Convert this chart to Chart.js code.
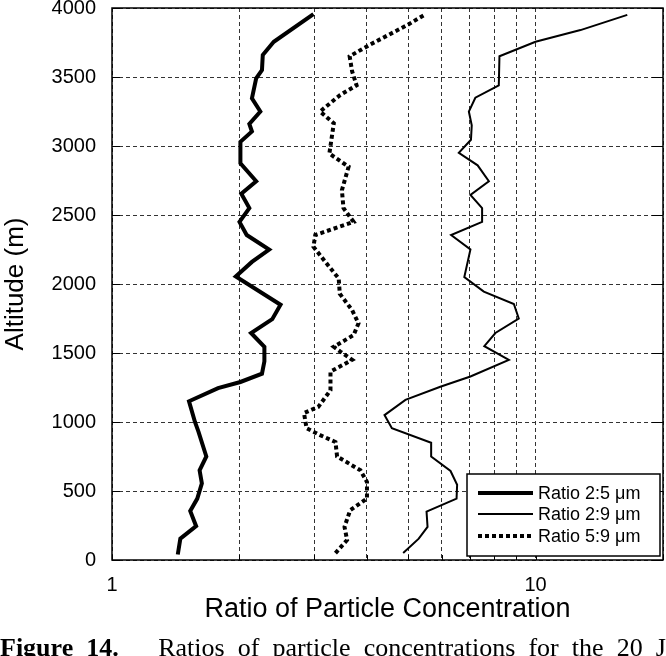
<!DOCTYPE html>
<html>
<head>
<meta charset="utf-8">
<script src="https://cdn.jsdelivr.net/npm/chart.js@4.4.1/dist/chart.umd.min.js"></script>
<style>
    html, body { margin: 0; padding: 0; background: #fff; overflow: hidden; }
    #wrap { position: relative; width: 666px; height: 656px; }
    #caption {
        position: absolute; left: 0; top: 633px; width: 666px;
        font-family: "Liberation Serif", "DejaVu Serif", serif; font-size: 26px; line-height: 30px;
        color: #000; text-align: justify; text-align-last: justify;
    }
</style>
</head>
<body>
<div id="wrap">
    <canvas id="profileChart" width="666" height="656"></canvas>
    <div id="caption"><b>Figure 14.</b>&nbsp;&nbsp; Ratios of particle concentrations for the 20 J</div>
</div>
<script>
// altitude (m) and ratio values
const alt25 = [40, 155, 245, 355, 445, 555, 650, 750, 930, 1000, 1150, 1245, 1290, 1350, 1440, 1545, 1645, 1745, 1850, 2055,
    2160, 2250, 2355, 2450, 2550, 2655, 2745, 2875, 3030, 3105, 3160, 3250, 3345, 3490, 3550, 3660, 3755, 3955];
const ratio25 = [1.43, 1.45, 1.58, 1.53, 1.59, 1.63, 1.61, 1.67, 1.60, 1.57, 1.52, 1.78, 2.01, 2.26, 2.29, 2.29, 2.13, 2.39, 2.50, 1.96,
    2.14, 2.35, 2.08, 2.00, 2.11, 2.02, 2.19, 2.01, 2.01, 2.14, 2.11, 2.24, 2.14, 2.19, 2.26, 2.27, 2.41, 2.99];

const alt29 = [50, 155, 240, 350, 445, 545, 645, 750, 850, 955, 1050, 1160, 1255, 1330, 1450, 1550, 1645, 1750, 1855, 1945,
    2050, 2250, 2355, 2450, 2550, 2645, 2745, 2860, 2950, 3045, 3150, 3250, 3350, 3440, 3650, 3755, 3840, 3950];
const ratio29 = [4.87, 5.30, 5.56, 5.53, 6.51, 6.53, 6.30, 5.67, 5.67, 4.58, 4.40, 4.93, 5.96, 7.02, 8.65, 7.57, 8.04, 9.13, 8.89, 7.55,
    6.79, 7.02, 6.32, 7.48, 7.48, 7.02, 7.76, 7.30, 6.59, 7.04, 7.07, 6.96, 7.21, 8.19, 8.22, 10.0, 12.77, 16.47];

const alt59 = [50, 145, 240, 360, 445, 565, 650, 750, 855, 905, 955, 1065, 1110, 1230, 1365, 1450, 1510, 1545, 1630, 1715,
    1810, 1930, 2040, 2160, 2270, 2355, 2450, 2550, 2680, 2850, 2875, 2945, 3055, 3165, 3250, 3370, 3440, 3540, 3650, 3730, 3875, 3950];
const ratio59 = [3.37, 3.59, 3.54, 3.65, 4.00, 4.00, 3.86, 3.40, 3.37, 3.10, 2.88, 2.84, 3.07, 3.28, 3.28, 3.69, 3.46, 3.34, 3.72, 3.82,
    3.69, 3.45, 3.43, 3.19, 2.99, 3.02, 3.72, 3.52, 3.49, 3.62, 3.52, 3.26, 3.30, 3.34, 3.10, 3.46, 3.78, 3.69, 3.64, 4.04, 4.97, 5.47];

const seriesLabels = ['Ratio 2:5 \u03bcm', 'Ratio 2:9 \u03bcm', 'Ratio 5:9 \u03bcm'];

// axes
const xGridValues = [1, 2, 3, 4, 5, 6, 7, 8, 9, 10, 20];
const xTickLabels = [1, 10];
const yTickValues = [0, 500, 1000, 1500, 2000, 2500, 3000, 3500, 4000];

const FONT = '"Liberation Sans", Arial, Helvetica, sans-serif';

function toPoints(xs, ys) {
    return xs.map((x, i) => ({ x: x, y: ys[i] }));
}

// frame + inward ticks, like the original plot
const framePlugin = {
    id: 'frame',
    afterDatasetsDraw(chart) {
        const { ctx, chartArea: a, scales } = chart;
        ctx.save();
        ctx.strokeStyle = '#000';
        ctx.lineWidth = 1;
        ctx.beginPath();
        yTickValues.forEach((v) => {
            const y = Math.round(scales.y.getPixelForValue(v)) + 0.5;
            ctx.moveTo(a.left, y); ctx.lineTo(a.left + 8, y);
            ctx.moveTo(a.right, y); ctx.lineTo(a.right - 11, y);
        });
        xGridValues.forEach((v) => {
            const x = Math.round(scales.x.getPixelForValue(v)) + 0.5;
            ctx.moveTo(x, a.bottom); ctx.lineTo(x, a.bottom - 5);
        });
        ctx.stroke();
        ctx.lineWidth = 1.5;
        ctx.strokeRect(a.left, a.top, a.right - a.left, a.bottom - a.top);
        ctx.restore();
    },
};

// legend box in the lower right corner
const legendPlugin = {
    id: 'boxLegend',
    afterDraw(chart) {
        const { ctx, chartArea: a } = chart;
        const right = a.right - 3;
        const bottom = a.bottom - 4;
        const left = right - 193;
        const top = bottom - 82;
        const rows = [19, 40, 62];
        ctx.save();
        ctx.fillStyle = '#fff';
        ctx.fillRect(left, top, right - left, bottom - top);
        ctx.strokeStyle = '#000';
        ctx.lineWidth = 1.5;
        ctx.strokeRect(left, top, right - left, bottom - top);
        chart.data.datasets.forEach((ds, i) => {
            const y = top + rows[i];
            ctx.beginPath();
            ctx.lineWidth = ds.borderWidth;
            ctx.setLineDash(ds.borderDash || []);
            ctx.moveTo(left + 11, y);
            ctx.lineTo(left + 66, y);
            ctx.stroke();
            ctx.setLineDash([]);
            ctx.fillStyle = '#000';
            ctx.font = '18px ' + FONT;
            ctx.textBaseline = 'middle';
            ctx.fillText(ds.label, left + 71, y + 1);
        });
        ctx.restore();
    },
};

document.addEventListener('DOMContentLoaded', () => {
    const canvas = document.getElementById('profileChart').getContext('2d');

    new Chart(canvas, {
        type: 'scatter',
        data: {
            datasets: [
                {
                    label: seriesLabels[0],
                    data: toPoints(ratio25, alt25),
                    showLine: true,
                    borderColor: '#000',
                    borderWidth: 4,
                    pointRadius: 0,
                    tension: 0,
                },
                {
                    label: seriesLabels[1],
                    data: toPoints(ratio29, alt29),
                    showLine: true,
                    borderColor: '#000',
                    borderWidth: 2,
                    pointRadius: 0,
                    tension: 0,
                },
                {
                    label: seriesLabels[2],
                    data: toPoints(ratio59, alt59),
                    showLine: true,
                    borderColor: '#000',
                    borderWidth: 4,
                    borderDash: [4, 3],
                    pointRadius: 0,
                    tension: 0,
                },
            ],
        },
        options: {
            responsive: false,
            animation: false,
            layout: { padding: { top: 8, right: 3, left: 0, bottom: 30 } },
            plugins: {
                legend: { display: false },
                tooltip: { enabled: false },
            },
            scales: {
                x: {
                    type: 'logarithmic',
                    min: 1,
                    max: 20,
                    afterBuildTicks: (scale) => {
                        scale.ticks = xGridValues.map((v) => ({ value: v }));
                    },
                    afterFit: (scale) => {
                        scale.height = 66;
                        scale.paddingLeft = 0;
                        scale.paddingRight = 0;
                    },
                    ticks: {
                        autoSkip: false,
                        maxRotation: 0,
                        padding: 13,
                        color: '#000',
                        font: { family: FONT, size: 20 },
                        callback: (value) => (xTickLabels.includes(value) ? String(value) : ''),
                    },
                    grid: { color: '#333', lineWidth: 1, drawTicks: false },
                    border: { display: false, dash: [4, 3] },
                    title: {
                        display: true,
                        text: 'Ratio of Particle Concentration',
                        color: '#000',
                        font: { family: FONT, size: 27 },
                        padding: { top: 0, bottom: 0 },
                    },
                },
                y: {
                    min: 0,
                    max: 4000,
                    afterBuildTicks: (scale) => {
                        scale.ticks = yTickValues.map((v) => ({ value: v }));
                    },
                    afterFit: (scale) => {
                        scale.width = 112;
                        scale.paddingTop = 0;
                        scale.paddingBottom = 0;
                    },
                    ticks: {
                        padding: 16,
                        color: '#000',
                        font: { family: FONT, size: 20 },
                        callback: (value) => String(value),
                    },
                    grid: { color: '#333', lineWidth: 1, drawTicks: false },
                    border: { display: false, dash: [4, 3] },
                    title: {
                        display: true,
                        text: 'Altitude (m)',
                        color: '#000',
                        font: { family: FONT, size: 26 },
                        padding: { top: 0, bottom: 0 },
                    },
                },
            },
        },
        plugins: [framePlugin, legendPlugin],
    });
});
</script>
</body>
</html>
